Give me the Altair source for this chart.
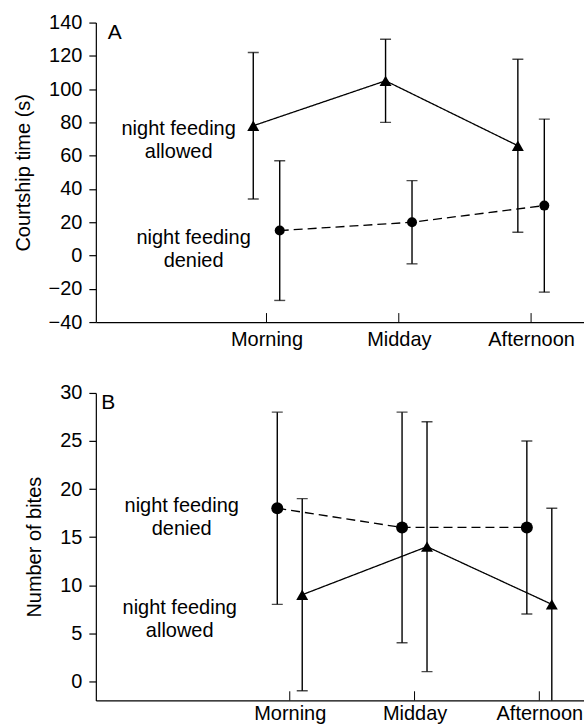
import altair as alt
import pandas as pd

# ---------------- data ----------------
periods = ["Morning", "Midday", "Afternoon"]
groups = ["night feeding allowed", "night feeding denied"]

# Panel A: courtship time (s)
a_allowed_mean = [78, 105, 66]
a_allowed_low = [34, 80, 14]
a_allowed_high = [122, 130, 118]
a_denied_mean = [15, 20, 30]
a_denied_low = [-27, -5, -22]
a_denied_high = [57, 45, 82]
a_y_ticks = [-40, -20, 0, 20, 40, 60, 80, 100, 120, 140]

# Panel B: number of bites
b_allowed_mean = [9, 14, 8]
b_allowed_low = [-1, 1, -3]
b_allowed_high = [19, 27, 18]
b_denied_mean = [18, 16, 16]
b_denied_low = [8, 4, 7]
b_denied_high = [28, 28, 25]
b_y_ticks = [0, 5, 10, 15, 20, 25, 30]

FONT = "Liberation Sans"
FS = 20
label_expr = "[''," + ",".join("'%s'" % p for p in periods) + "][datum.value]"


def build_df(series):
    rows = []
    for group, offset, mean, low, high in series:
        for i, p in enumerate(periods):
            rows.append(dict(period=p, x=i + 1 + offset, group=group,
                             mean=mean[i], low=low[i], high=high[i]))
    return pd.DataFrame(rows)


def panel(series, xdomain, ydomain, yticks, ytitle, letter, letter_pos, notes,
          width, height, tri_size, circ_size, xtick_len, xlab_pad):
    df = build_df(series)
    xs = alt.Scale(domain=xdomain, nice=False, zero=False)
    ys = alt.Scale(domain=ydomain, nice=False, zero=False)
    x_axis = alt.Axis(values=[1, 2, 3], labelExpr=label_expr, ticks=False,
                      grid=False, labelPadding=xlab_pad, labelAngle=0, title=None)
    y_axis = alt.Axis(values=yticks, tickSize=7, grid=False, labelPadding=7,
                      titlePadding=15, labelFlush=False, title=ytitle)

    def X(field="x"):
        return alt.X(f"{field}:Q", scale=xs, axis=x_axis, title=None)

    def Y(field):
        return alt.Y(f"{field}:Q", scale=ys, axis=y_axis, title=ytitle)

    base = alt.Chart(df)
    lines = base.mark_line(color="black", strokeWidth=1.3).encode(
        x=X(), y=Y("mean"),
        strokeDash=alt.StrokeDash("group:N", legend=None,
                                  scale=alt.Scale(domain=groups, range=[[1, 0], [9, 5]])),
        detail="group:N",
    )
    rules = base.mark_rule(color="black", strokeWidth=1.4, clip=True).encode(
        x=X(), y=Y("low"), y2="high:Q")
    cap_lo = base.mark_tick(orient="horizontal", size=11, thickness=1.4,
                            color="black", clip=True).encode(x=X(), y=Y("low"))
    cap_hi = base.mark_tick(orient="horizontal", size=11, thickness=1.4,
                            color="black", clip=True).encode(x=X(), y=Y("high"))
    tris = base.transform_filter(alt.datum.group == groups[0]).mark_point(
        shape="triangle-up", filled=True, opacity=1, color="black", size=tri_size
    ).encode(x=X(), y=Y("mean"))
    circs = base.transform_filter(alt.datum.group == groups[1]).mark_point(
        shape="circle", filled=True, opacity=1, color="black", size=circ_size
    ).encode(x=X(), y=Y("mean"))

    tick_df = pd.DataFrame({"x": [1, 2, 3], "y0": [ydomain[0]] * 3,
                            "y1": [ydomain[0] + xtick_len] * 3})
    xticks = alt.Chart(tick_df).mark_rule(color="black", strokeWidth=1).encode(
        x=X(), y=Y("y0"), y2="y1:Q")

    note_df = pd.DataFrame(notes)
    texts = alt.Chart(note_df).mark_text(
        font=FONT, fontSize=FS, align="center", baseline="middle",
        lineBreak="\n", lineHeight=23, color="black"
    ).encode(x=X(), y=Y("ty"), text="text:N")

    let_df = pd.DataFrame({"x": [letter_pos[0]], "ty": [letter_pos[1]], "text": [letter]})
    let = alt.Chart(let_df).mark_text(
        font=FONT, fontSize=21, align="left", baseline="middle", color="black"
    ).encode(x=X(), y=Y("ty"), text="text:N")

    return alt.layer(lines, rules, cap_lo, cap_hi, tris, circs, xticks, texts, let).properties(
        width=width, height=height)


panel_a = panel(
    series=[(groups[0], -0.1, a_allowed_mean, a_allowed_low, a_allowed_high),
            (groups[1], 0.1, a_denied_mean, a_denied_low, a_denied_high)],
    xdomain=[-0.29, 3.40], ydomain=[-40, 140], yticks=a_y_ticks,
    ytitle="Courtship time (s)", letter="A", letter_pos=(-0.2, 134),
    notes=[{"x": 0.336, "ty": 76, "text": "night feeding\nallowed"},
           {"x": 0.449, "ty": 10.5, "text": "night feeding\ndenied"}],
    width=489, height=300, tri_size=144, circ_size=100, xtick_len=5.4,
    xlab_pad=7,
)

panel_b = panel(
    series=[(groups[0], 0.1, b_allowed_mean, b_allowed_low, b_allowed_high),
            (groups[1], -0.1, b_denied_mean, b_denied_low, b_denied_high)],
    xdomain=[-0.554, 3.358], ydomain=[-2, 30], yticks=b_y_ticks,
    ytitle="Number of bites", letter="B", letter_pos=(-0.51, 29),
    notes=[{"x": 0.134, "ty": 18.25, "text": "night feeding\ndenied"},
           {"x": 0.118, "ty": 7.65, "text": "night feeding\nallowed"}],
    width=489, height=308, tri_size=144, circ_size=144, xtick_len=0.95,
    xlab_pad=3,
)

chart = alt.vconcat(panel_a, panel_b, spacing=71, bounds="flush").properties(
    padding={"left": 13, "top": 12, "right": 0, "bottom": 0},
    background="white",
).configure_axis(
    labelFont=FONT, titleFont=FONT, labelFontSize=FS, titleFontSize=FS,
    labelColor="black", titleColor="black", domainColor="black", tickColor="black",
    titleFontWeight="normal", domainWidth=1.2, tickWidth=1.2,
).configure_view(stroke=None)

chart.save("out.html", embed_options={"renderer": "svg", "actions": False})
